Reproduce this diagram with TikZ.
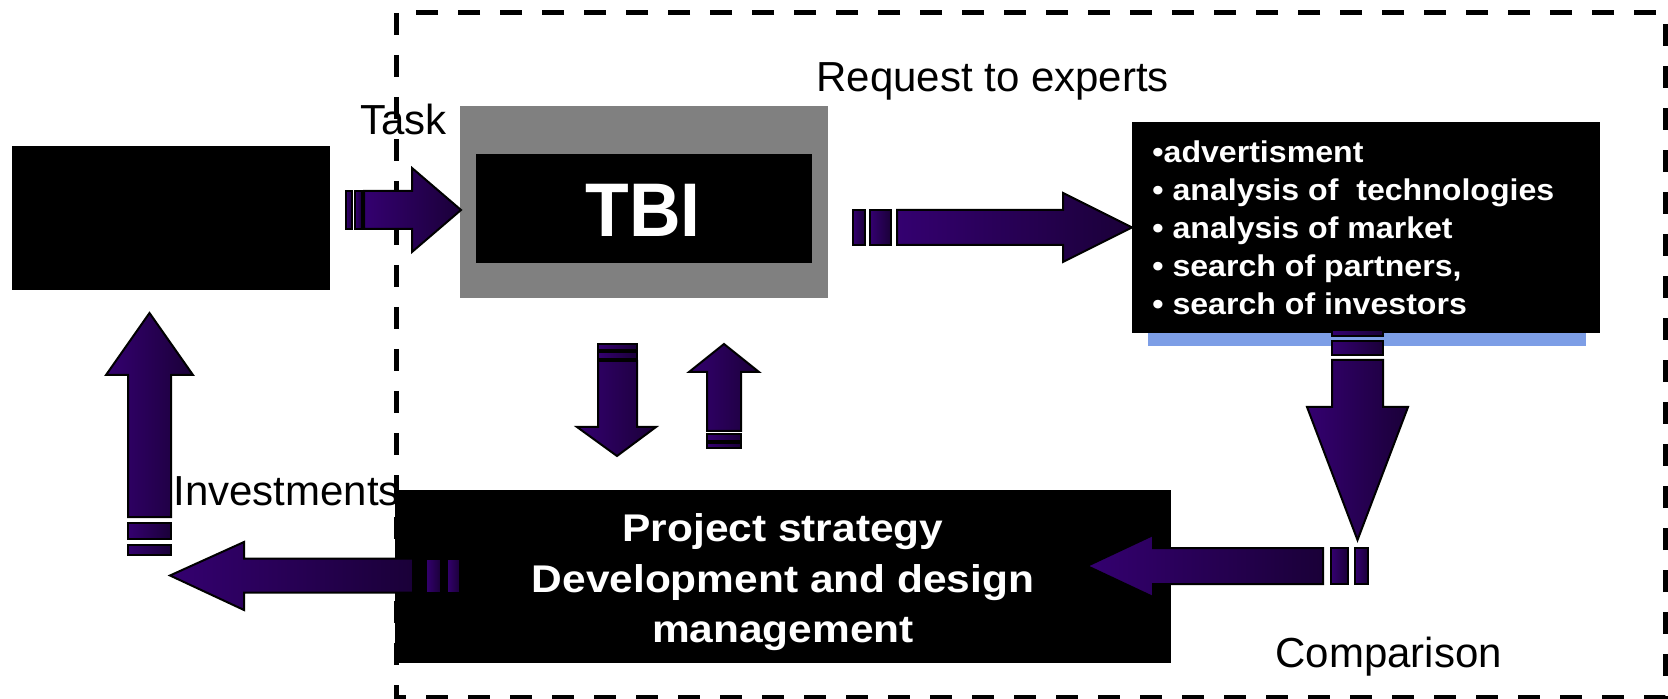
\documentclass[tikz,border=0pt]{standalone}
\usepackage{fontspec}
\setmainfont{Liberation Sans}
\newfontfamily\projfont[FakeStretch=1.1]{Liberation Sans}
\newfontfamily\listfont[FakeStretch=1.07]{Liberation Sans}
\newfontfamily\tbifont[FakeStretch=0.94]{Liberation Sans}
\definecolor{arrowL}{RGB}{52,0,112}
\definecolor{arrowR}{RGB}{26,0,56}
\definecolor{tbigray}{RGB}{128,128,128}
\definecolor{stripblue}{RGB}{125,158,230}
\begin{document}
\begin{tikzpicture}[x=0.5pt,y=-0.5pt,
  blackbox/.style={fill=black, draw=none, inner sep=0pt, outer sep=0pt},
  lbl/.style={font=\fontsize{21pt}{25pt}\selectfont, anchor=base west, inner sep=0pt},
  listline/.style={font=\listfont\bfseries\fontsize{15pt}{19pt}\selectfont, text=white, anchor=base west, inner sep=0pt},
  projline/.style={font=\projfont\bfseries\fontsize{19.3pt}{26pt}\selectfont, text=white, anchor=base, inner sep=0pt},
  blockarrow/.style={left color=arrowL, right color=arrowR, draw=black, line width=1pt, line join=miter}
]
\useasboundingbox (0,0) rectangle (1668,699);

% labels (drawn first so boxes overlap them)
\node[lbl] (reqlbl) at (816,92) {Request to experts};
\node[lbl] (tasklbl) at (360,135) {Task};
\node[lbl] (invlbl) at (173,505) {Investments};
\node[lbl] (cmplbl) at (1275,667) {Comparison};

% boxes
\node[blackbox, minimum width=159pt, minimum height=72pt] (src) at (171,218) {};
\node[fill=tbigray, draw=none, inner sep=0pt, minimum width=184pt, minimum height=96pt] (tbi) at (644,202) {};
\node[blackbox, minimum width=168pt, minimum height=54.5pt] (tbiin) at (644,208.5) {};
\node[font=\tbifont\bfseries\fontsize{38pt}{44pt}\selectfont, text=white, anchor=base, inner sep=0pt] (tbitxt) at (643,237) {TBI};

\node[fill=stripblue, draw=none, inner sep=0pt, minimum width=219pt, minimum height=13pt] (strip) at (1367,333) {};
\node[blackbox, minimum width=234pt, minimum height=105.5pt] (experts) at (1366,227.5) {};
\node[listline] (l1) at (1152,163) {•advertisment};
\node[listline] (l2) at (1152,201) {• analysis of\ \ technologies};
\node[listline] (l3) at (1152,239) {• analysis of market};
\node[listline] (l4) at (1152,277) {• search of partners,};
\node[listline] (l5) at (1152,315) {• search of investors};

\node[blackbox, minimum width=388pt, minimum height=86.5pt] (proj) at (783,576.5) {};
\node[projline] (p1) at (783,541) {Project strategy};
\node[projline] (p2) at (783,592) {Development and design};
\node[projline] (p3) at (783,642) {management};

% dashed frame
\draw[line width=2.5pt, dash pattern=on 11pt off 10pt] (396,13) rectangle (1665,697);

% A1 task arrow
\draw[blockarrow] (364,191) -- (412,191) -- (412,168) -- (461,210) -- (412,252) -- (412,229) -- (364,229) -- cycle;
\draw[blockarrow] (346,191) rectangle (352,229);
\draw[blockarrow] (355,191) rectangle (362,229);

% A2 request arrow
\draw[blockarrow] (897,210) -- (1063,210) -- (1063,193) -- (1132,227.5) -- (1063,262) -- (1063,245) -- (897,245) -- cycle;
\draw[blockarrow] (853,210) rectangle (865,245);
\draw[blockarrow] (870,210) rectangle (891,245);

% A3 down arrow from experts
\draw[blockarrow] (1332,360) -- (1332,407) -- (1307,407) -- (1357.5,540) -- (1408,407) -- (1383,407) -- (1383,360) -- cycle;
\draw[blockarrow] (1332,330) rectangle (1383,336);
\draw[blockarrow] (1332,341) rectangle (1383,355);

% A4 comparison arrow into project box
\draw[blockarrow] (1323,548) -- (1153,548) -- (1153,535) -- (1087,566) -- (1153,597) -- (1153,584) -- (1323,584) -- cycle;
\draw[blockarrow] (1331,548) rectangle (1348,584);
\draw[blockarrow] (1355,548) rectangle (1368,584);

% A5 investments arrow (left)
\draw[blockarrow] (413,558.5) -- (244,558.5) -- (244,542) -- (170,575.5) -- (244,610) -- (244,592.5) -- (413,592.5) -- cycle;
\draw[blockarrow] (426,558.5) rectangle (441,592.5);
\draw[blockarrow] (447,558.5) rectangle (460,592.5);

% A6 up arrow to source box
\draw[blockarrow] (128,517) -- (128,375) -- (106,375) -- (149.5,313) -- (193,375) -- (171,375) -- (171,517) -- cycle;
\draw[blockarrow] (128,523) rectangle (171,539);
\draw[blockarrow] (128,545) rectangle (171,555);

% A7 middle down arrow
\draw[blockarrow] (598,361) -- (598,427) -- (577,427) -- (617,456) -- (656,427) -- (637,427) -- (637,361) -- cycle;
\draw[blockarrow] (598,344) rectangle (637,350);
\draw[blockarrow] (598,352) rectangle (637,359);

% A8 middle up arrow
\draw[blockarrow] (707,431) -- (707,372) -- (689,372) -- (724,344) -- (759,372) -- (741,372) -- (741,431) -- cycle;
\draw[blockarrow] (707,434) rectangle (741,441);
\draw[blockarrow] (707,443) rectangle (741,448);
\end{tikzpicture}
\end{document}
